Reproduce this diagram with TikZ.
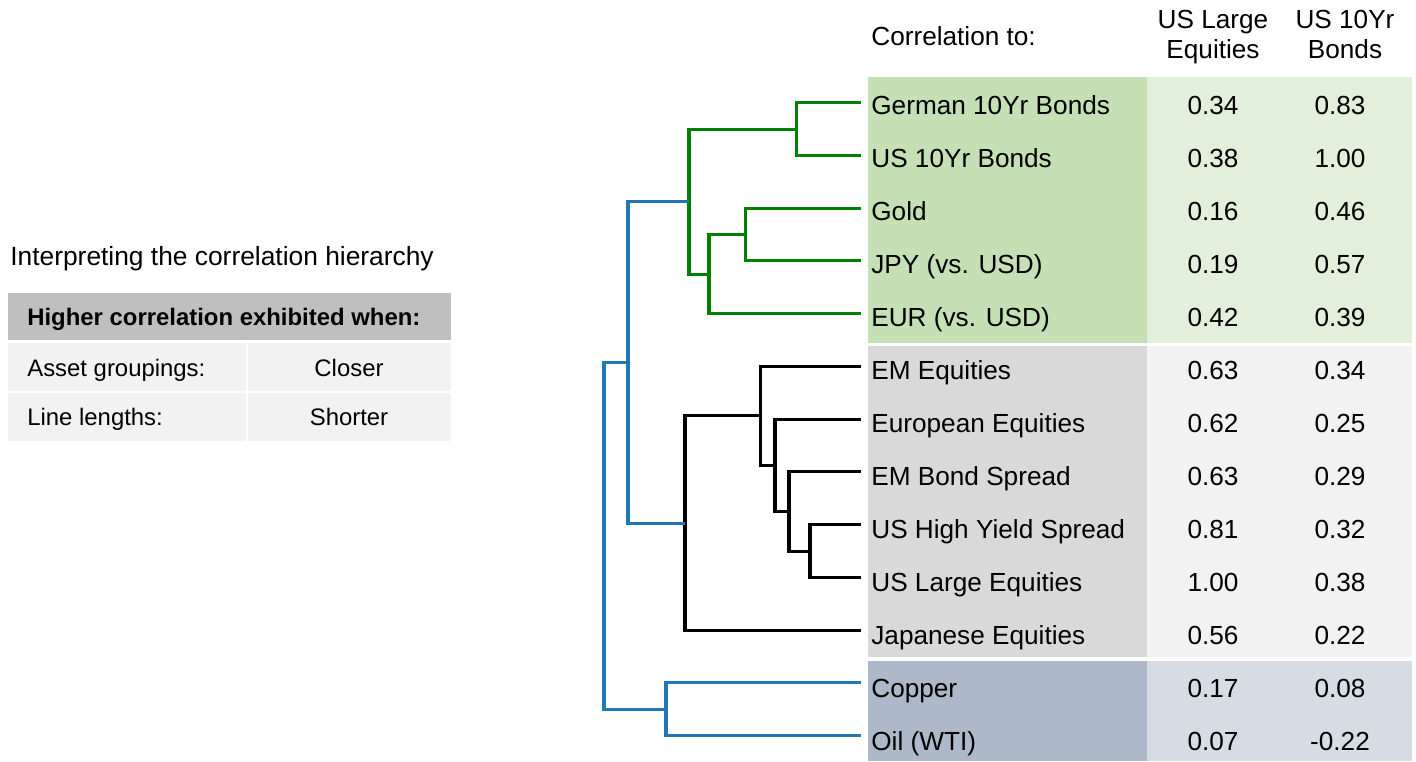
\documentclass[tikz,border=0pt]{standalone}
\usepackage{fontspec}
\setmainfont{Liberation Sans}
\definecolor{lnGreen}{HTML}{008000}
\definecolor{lnBlue}{HTML}{1F77B4}
\definecolor{bandGreenA}{HTML}{C5E0B4}
\definecolor{bandGreenB}{HTML}{E2EFDA}
\definecolor{bandGrayA}{HTML}{D9D9D9}
\definecolor{bandGrayB}{HTML}{F2F2F2}
\definecolor{bandBlueA}{HTML}{ADB9CA}
\definecolor{bandBlueB}{HTML}{D6DCE4}
\definecolor{hdrGray}{HTML}{BFBFBF}
\tikzstyle{asset}=[anchor=base west,inner sep=0pt,font=\fontsize{14.9}{17}\selectfont]
\tikzstyle{corr}=[anchor=base,inner sep=0pt,font=\fontsize{14.9}{17}\selectfont]
\tikzstyle{cell}=[anchor=base west,inner sep=0pt,font=\fontsize{13.6}{16}\selectfont]
\tikzstyle{grn}=[lnGreen,line width=1.8pt]
\tikzstyle{blu}=[lnBlue,line width=1.8pt]
\tikzstyle{blk}=[black,line width=1.8pt]

\begin{document}
\begin{tikzpicture}[x=0.02cm,y=-0.02cm]
\useasboundingbox (0,0) rectangle (1416,761);

% left key
\node[anchor=base west,inner sep=0pt,font=\fontsize{15}{18}\selectfont] at (10,265) (title) {Interpreting the correlation hierarchy};
\fill[hdrGray] (8,293) rectangle (451,340);
\fill[bandGrayB] (8,342.7) rectangle (246,390.7);
\fill[bandGrayB] (248,342.7) rectangle (451,390.7);
\fill[bandGrayB] (8,392.7) rectangle (246,440.7);
\fill[bandGrayB] (248,392.7) rectangle (451,440.7);
\node[cell,font=\fontsize{13.6}{16}\selectfont\bfseries] at (27,325) (keyhdr) {Higher correlation exhibited when:};
\node[cell] at (27,376) (keygrp) {Asset groupings:};
\node[cell,anchor=base] at (349,376) (keycls) {Closer};
\node[cell] at (27,425) (keylen) {Line lengths:};
\node[cell,anchor=base] at (349,425) (keysht) {Shorter};

% bands
\fill[bandGreenA] (868,77.3) rectangle (1146.7,342.7);
\fill[bandGreenB] (1146.7,77.3) rectangle (1412,342.7);
\fill[bandGrayA] (868,345.5) rectangle (1146.7,657.3);
\fill[bandGrayB] (1146.7,345.5) rectangle (1412,657.3);
\fill[bandBlueA] (868,660.7) rectangle (1146.7,761);
\fill[bandBlueB] (1146.7,660.7) rectangle (1412,761);

% header
\node[asset] at (871,45) (corrto) {Correlation to:};
\node[corr,align=center,anchor=north] at (1213,10) (hdrusl) {US Large\\Equities};
\node[corr,align=center,anchor=north] at (1345,10) (hdrust) {US 10Yr\\Bonds};

% asset rows
\node[asset] at (871,114.2) (tgerm) {German 10Yr Bonds};
\node[asset] at (871,167.2) (tusb) {US 10Yr Bonds};
\node[asset] at (871,220.2) (tgold) {Gold};
\node[asset] at (871,273.2) (tjpy) {JPY (vs. USD)};
\node[asset] at (871,326.2) (teur) {EUR (vs. USD)};
\node[asset] at (871,379.2) (temeq) {EM Equities};
\node[asset] at (871,432.2) (teuro) {European Equities};
\node[asset] at (871,485.2) (temb) {EM Bond Spread};
\node[asset] at (871,538.2) (tushy) {US High Yield Spread};
\node[asset] at (871,591.2) (tusl) {US Large Equities};
\node[asset] at (871,644.2) (tjap) {Japanese Equities};
\node[asset] at (871,697.2) (tcop) {Copper};
\node[asset] at (871,750.2) (toil) {Oil (WTI)};

\node[corr] at (1213,114.2) (a1) {0.34};
\node[corr] at (1213,167.2) (a2) {0.38};
\node[corr] at (1213,220.2) (a3) {0.16};
\node[corr] at (1213,273.2) (a4) {0.19};
\node[corr] at (1213,326.2) (a5) {0.42};
\node[corr] at (1213,379.2) (a6) {0.63};
\node[corr] at (1213,432.2) (a7) {0.62};
\node[corr] at (1213,485.2) (a8) {0.63};
\node[corr] at (1213,538.2) (a9) {0.81};
\node[corr] at (1213,591.2) (a10) {1.00};
\node[corr] at (1213,644.2) (a11) {0.56};
\node[corr] at (1213,697.2) (a12) {0.17};
\node[corr] at (1213,750.2) (a13) {0.07};

\node[corr] at (1340,114.2) (b1) {0.83};
\node[corr] at (1340,167.2) (b2) {1.00};
\node[corr] at (1340,220.2) (b3) {0.46};
\node[corr] at (1340,273.2) (b4) {0.57};
\node[corr] at (1340,326.2) (b5) {0.39};
\node[corr] at (1340,379.2) (b6) {0.34};
\node[corr] at (1340,432.2) (b7) {0.25};
\node[corr] at (1340,485.2) (b8) {0.29};
\node[corr] at (1340,538.2) (b9) {0.32};
\node[corr] at (1340,591.2) (b10) {0.38};
\node[corr] at (1340,644.2) (b11) {0.22};
\node[corr] at (1340,697.2) (b12) {0.08};
\node[corr] at (1340,750.2) (b13) {-0.22};

% leaf ends
\coordinate (germ) at (861,102.7);
\coordinate (usb) at (861,155.4);
\coordinate (gold) at (861,208.2);
\coordinate (jpy) at (861,260.9);
\coordinate (eur) at (861,313.7);
\coordinate (emeq) at (861,366.4);
\coordinate (euro) at (861,419.2);
\coordinate (emb) at (861,471.9);
\coordinate (ushy) at (861,524.7);
\coordinate (usl) at (861,577.4);
\coordinate (jap) at (861,630.2);
\coordinate (cop) at (861,682.9);
\coordinate (oil) at (861,735.7);

% joins
\coordinate (g1) at (796.7,129.1);
\coordinate (g2) at (745.7,234.6);
\coordinate (g3) at (709,274.1);
\coordinate (g4) at (689,201.6);
\coordinate (k1) at (810,551.1);
\coordinate (k2) at (789,511.5);
\coordinate (k3) at (775,465.3);
\coordinate (k4) at (760.7,415.9);
\coordinate (k5) at (685,523.1);
\coordinate (c1) at (666,709.3);
\coordinate (r1) at (628,362.3);
\coordinate (r0) at (604,535.8);

\draw[grn] (germ) -| (g1) |- (usb);
\draw[grn] (gold) -| (g2) |- (jpy);
\draw[grn] (g2) -| (g3) |- (eur);
\draw[grn] (g1) -| (g4) |- (g3);
\draw[blk] (ushy) -| (k1) |- (usl);
\draw[blk] (emb) -| (k2) |- (k1);
\draw[blk] (euro) -| (k3) |- (k2);
\draw[blk] (emeq) -| (k4) |- (k3);
\draw[blk] (k4) -| (k5) |- (jap);
\draw[blu] (g4) -| (r1) |- (k5);
\draw[blu] (cop) -| (c1) |- (oil);
\draw[blu] (r1) -| (r0) |- (c1);

\end{tikzpicture}
\end{document}
